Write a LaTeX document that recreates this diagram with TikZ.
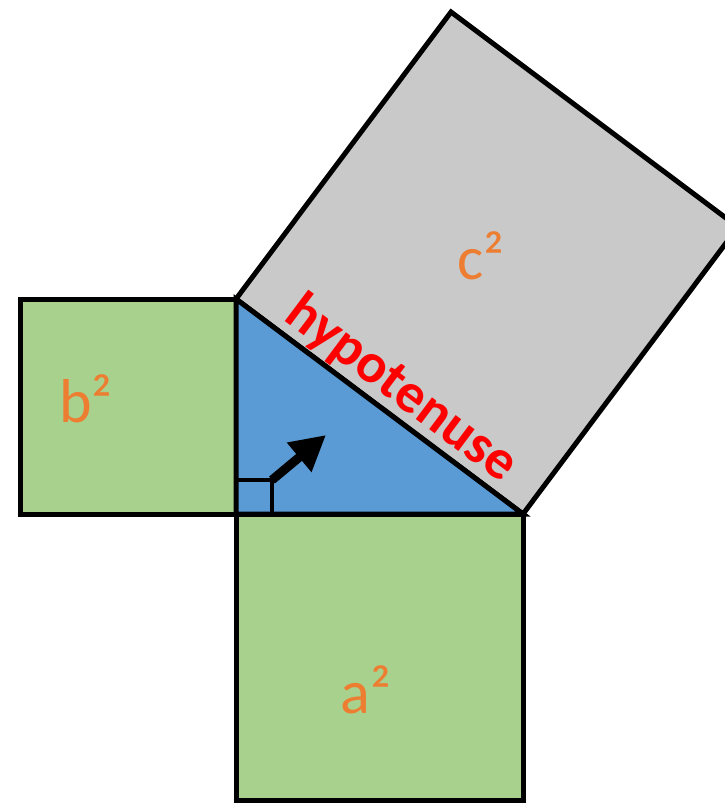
\documentclass[tikz,border=0pt]{standalone}
\usepackage{fontspec}
\setmainfont{Carlito}
\usetikzlibrary{arrows.meta,calc}
\definecolor{sqgreen}{RGB}{169,209,142}
\definecolor{triblue}{RGB}{91,155,213}
\definecolor{sqgray}{RGB}{201,201,201}
\definecolor{labor}{RGB}{237,125,49}

\begin{document}
\begin{tikzpicture}[x=1pt, y=-1pt, line width=5pt,
    every node/.style={font=\fontsize{62}{62}\selectfont, text=labor}]
  \useasboundingbox (0,0) rectangle (725,803);
  \clip (0,0) rectangle (725,803);
  \coordinate (C) at (236,514);
  \coordinate (B) at (236,299);
  \coordinate (A) at (523,514);
  \draw[fill=sqgray] (B) -- (A) -- ($(A)+(215,-287)$) -- ($(B)+(215,-287)$) -- cycle;
  \draw[fill=sqgreen] (C) rectangle (A |- 0,800);
  \draw[fill=sqgreen] (C) rectangle (20,299);
  \draw[fill=triblue] (C) -- (B) -- (A) -- cycle;
  \coordinate (m) at (272,480);
  \coordinate (tip) at (326,435);
  \draw[line width=4pt] (236,480) -- (m) -- (272,514);
  \draw[line width=9pt, -{Triangle[length=35pt, width=36pt]}] (m) -- (tip);
  \node (csq) at (481,256) {c²};
  \node (asq) at (366,690) {a²};
  \node (bsq) at (86,399) {b²};
  \path (B) -- (A) node (hyp) [pos=0.52, sloped, above, inner sep=0.5pt, text=red,
    font=\bfseries\fontsize{56}{56}\selectfont] {hypotenuse};
\end{tikzpicture}
\end{document}
